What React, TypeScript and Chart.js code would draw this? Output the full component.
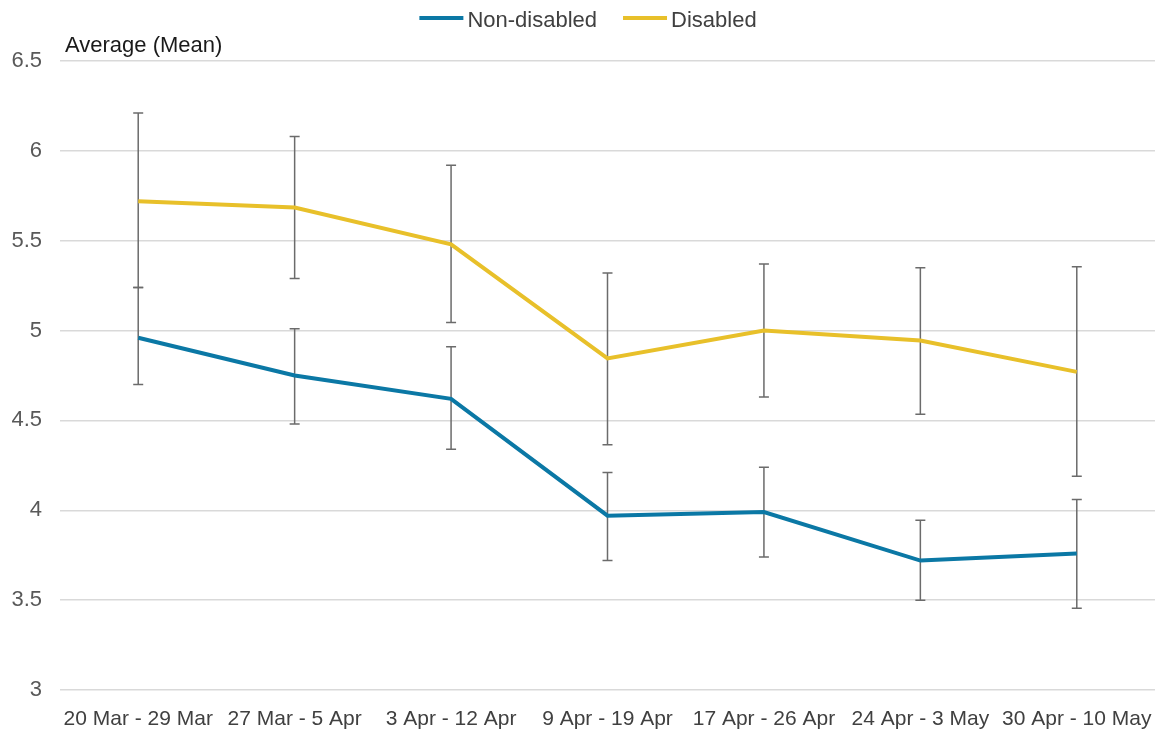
import React, { useEffect, useRef } from "react";
import { Chart, registerables } from "chart.js";

Chart.register(...registerables);

const categories = [
  "20 Mar - 29 Mar",
  "27 Mar - 5 Apr",
  "3 Apr - 12 Apr",
  "9 Apr - 19 Apr",
  "17 Apr - 26 Apr",
  "24 Apr - 3 May",
  "30 Apr - 10 May",
];

const nonDisabled = [4.96, 4.75, 4.62, 3.97, 3.99, 3.72, 3.76];
const nonDisabledLow = [4.70, 4.48, 4.34, 3.72, 3.74, 3.50, 3.455];
const nonDisabledHigh = [5.24, 5.01, 4.91, 4.21, 4.24, 3.945, 4.06];

const disabled = [5.72, 5.685, 5.48, 4.845, 5.0, 4.945, 4.77];
const disabledLow = [5.24, 5.29, 5.045, 4.365, 4.63, 4.535, 4.19];
const disabledHigh = [6.21, 6.08, 5.92, 5.32, 5.37, 5.35, 5.355];

const yTicks = { min: 3, max: 6.5, step: 0.5 };
const yTitle = "Average (Mean)";

const BLUE = "#0b78a5";
const YELLOW = "#e8c02a";
const FONT = "'Liberation Sans', Arial, sans-serif";

export default function App() {
  const ref = useRef<HTMLCanvasElement>(null);

  useEffect(() => {
    if (!ref.current) return;

    const errorBars = {
      id: "errorBars",
      beforeDatasetsDraw(chart: any) {
        const ctx = chart.ctx;
        const xs = chart.scales.x;
        const ys = chart.scales.y;
        ctx.save();
        ctx.strokeStyle = "#6b6b6b";
        ctx.lineWidth = 1.5;
        chart.data.datasets.forEach((ds: any) => {
          const lows: number[] = ds.errLow;
          const highs: number[] = ds.errHigh;
          lows.forEach((lo, i) => {
            const px = xs.getPixelForValue(i);
            const pLo = ys.getPixelForValue(lo);
            const pHi = ys.getPixelForValue(highs[i]);
            ctx.beginPath();
            ctx.moveTo(px, pLo);
            ctx.lineTo(px, pHi);
            ctx.moveTo(px - 5, pLo);
            ctx.lineTo(px + 5, pLo);
            ctx.moveTo(px - 5, pHi);
            ctx.lineTo(px + 5, pHi);
            ctx.stroke();
          });
        });
        ctx.restore();
      },
    };

    const customText = {
      id: "customText",
      afterDraw(chart: any) {
        const ctx = chart.ctx;
        ctx.save();
        // y-axis title
        ctx.font = `22px ${FONT}`;
        ctx.fillStyle = "#1a1a1a";
        ctx.textAlign = "left";
        ctx.textBaseline = "alphabetic";
        ctx.fillText(yTitle, chart.chartArea.left + 5, 52);

        // legend
        ctx.font = `22px ${FONT}`;
        const lineLen = 44;
        const gap = 4;
        const itemGap = 26;
        const items = chart.data.datasets.map((ds: any) => ({
          label: ds.label as string,
          color: ds.borderColor as string,
          w: ctx.measureText(ds.label).width,
        }));
        let total = 0;
        items.forEach((it: any, i: number) => {
          total += lineLen + gap + it.w + (i < items.length - 1 ? itemGap : 0);
        });
        let x = 588 - total / 2;
        items.forEach((it: any) => {
          ctx.strokeStyle = it.color;
          ctx.lineWidth = 4;
          ctx.beginPath();
          ctx.moveTo(x, 18);
          ctx.lineTo(x + lineLen, 18);
          ctx.stroke();
          ctx.fillStyle = "#404040";
          ctx.fillText(it.label, x + lineLen + gap, 27);
          x += lineLen + gap + it.w + itemGap;
        });
        ctx.restore();
      },
    };

    const chart = new Chart(ref.current, {
      type: "line",
      data: {
        labels: categories,
        datasets: [
          {
            label: "Non-disabled",
            data: nonDisabled,
            borderColor: BLUE,
            backgroundColor: BLUE,
            borderWidth: 4,
            pointRadius: 0,
            tension: 0,
            errLow: nonDisabledLow,
            errHigh: nonDisabledHigh,
          } as any,
          {
            label: "Disabled",
            data: disabled,
            borderColor: YELLOW,
            backgroundColor: YELLOW,
            borderWidth: 4,
            pointRadius: 0,
            tension: 0,
            errLow: disabledLow,
            errHigh: disabledHigh,
          } as any,
        ],
      },
      options: {
        animation: false,
        responsive: true,
        maintainAspectRatio: false,
        layout: { padding: { top: 61, right: 0, left: 0, bottom: 0 } },
        plugins: {
          legend: { display: false },
          tooltip: { enabled: false },
          title: { display: false },
        },
        scales: {
          x: {
            offset: true,
            afterFit(scale: any) {
              scale.height = 39;
              scale.paddingLeft = 0;
              scale.paddingRight = 0;
              scale.paddingTop = 0;
              scale.paddingBottom = 0;
            },
            grid: { display: false, drawTicks: false },
            border: { display: false },
            ticks: {
              color: "#404040",
              font: { family: FONT, size: 21 },
              padding: 17,
              maxRotation: 0,
              autoSkip: false,
            },
          },
          y: {
            min: yTicks.min,
            max: yTicks.max,
            afterFit(scale: any) {
              scale.width = 60;
              scale.paddingTop = 0;
              scale.paddingBottom = 0;
            },
            grid: { color: "#d9d9d9", lineWidth: 1.5, drawTicks: false },
            border: { display: false },
            ticks: {
              stepSize: yTicks.step,
              color: "#595959",
              font: { family: FONT, size: 22 },
              padding: 18,
              callback: (v: any) => String(Number(v)),
            },
          },
        },
      },
      plugins: [errorBars, customText],
    });

    return () => chart.destroy();
  }, []);

  return (
    <div
      style={{
        position: "fixed",
        left: 0,
        top: 0,
        width: 1155,
        height: 729,
        background: "#fff",
      }}
    >
      <canvas ref={ref} />
    </div>
  );
}
